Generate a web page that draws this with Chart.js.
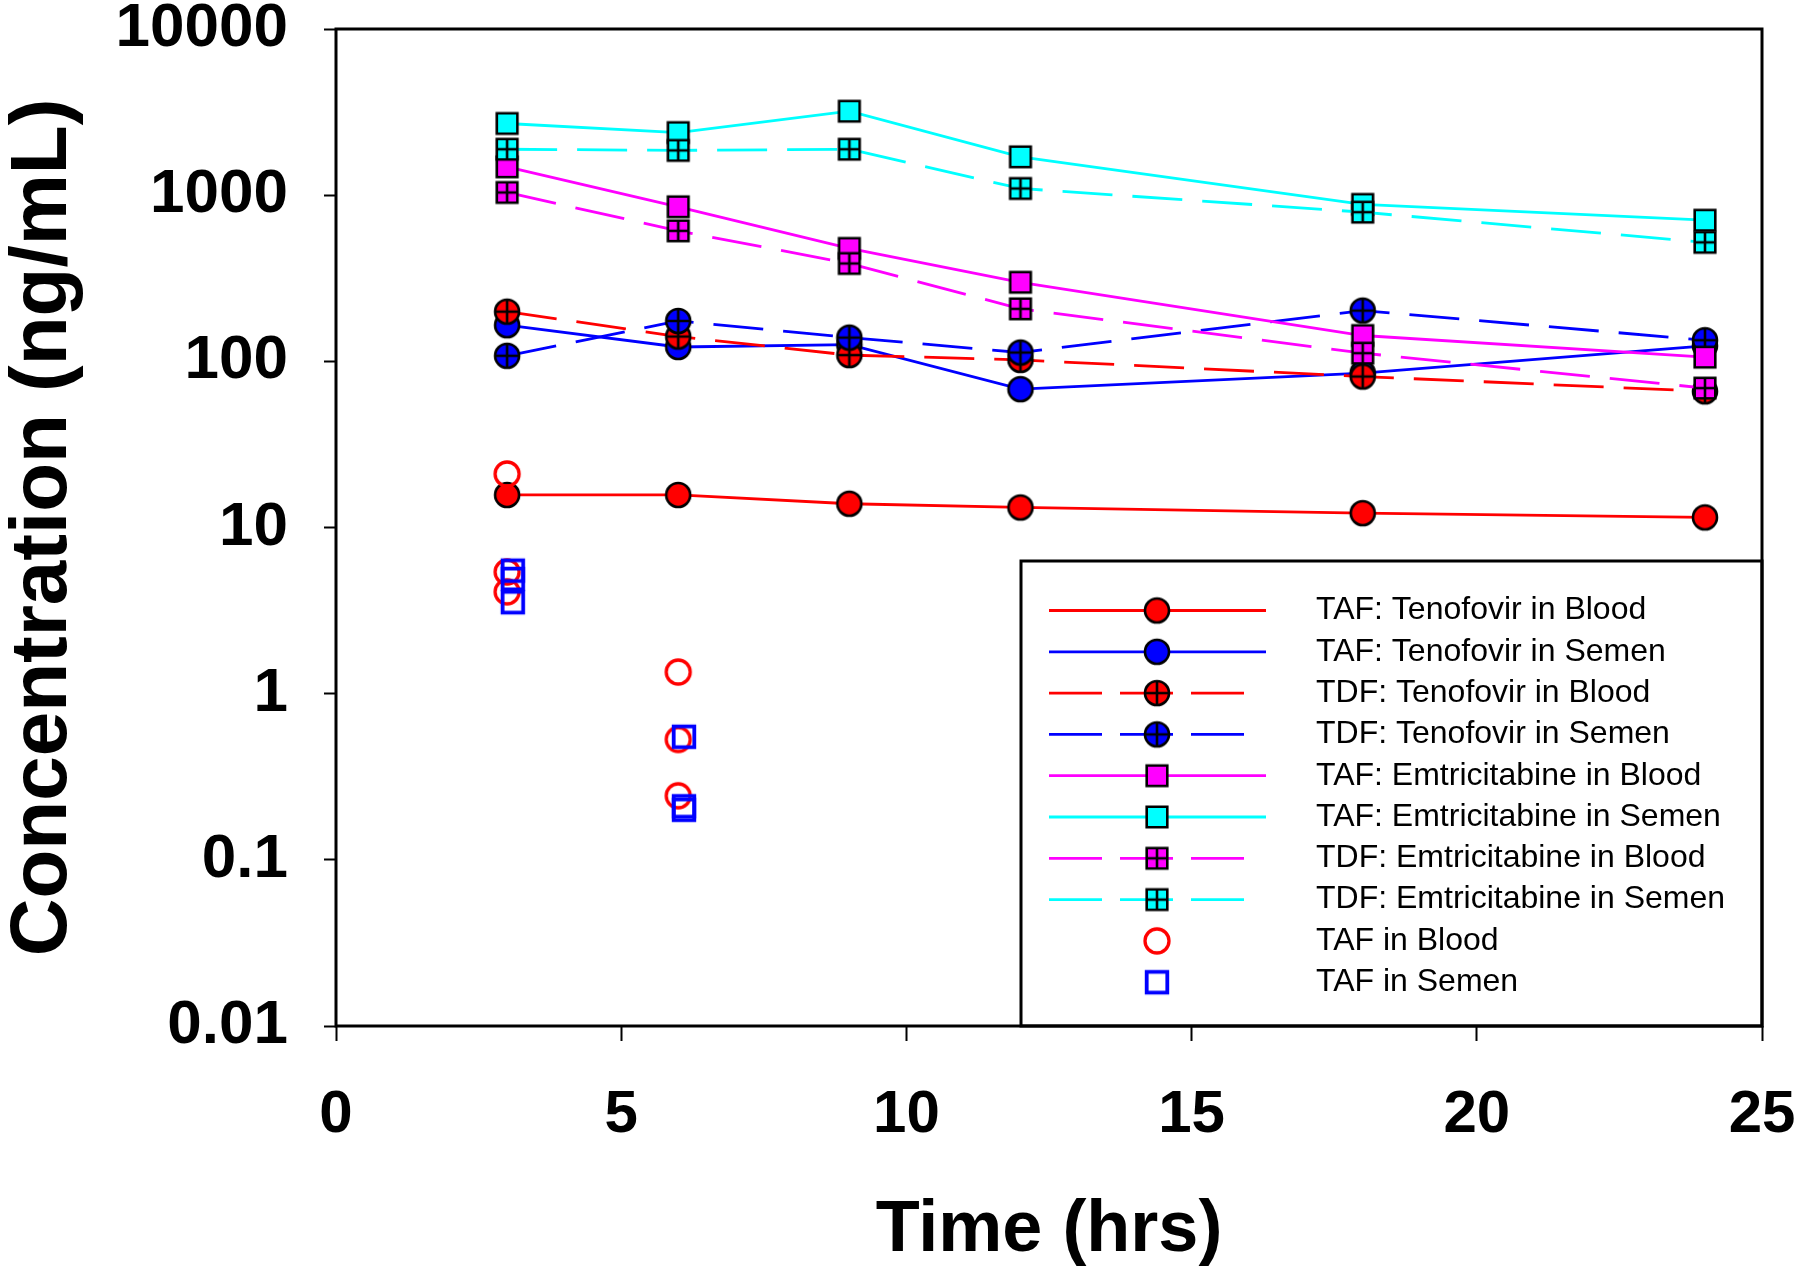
<!DOCTYPE html>
<html><head><meta charset="utf-8">
<script src="https://cdn.jsdelivr.net/npm/chart.js@4.4.1/dist/chart.umd.min.js"></script>
<style>html,body{margin:0;padding:0;background:#fff}#wrap{width:1800px;height:1267px;position:relative}</style>
</head><body><div id="wrap"><canvas id="c"></canvas></div>
<script>
// ---- data ----
const times = [3, 6, 9, 12, 18, 24];
const tafTenofovirBlood = [15.7, 15.7, 13.9, 13.2, 12.2, 11.5];
const tafTenofovirSemen = [165, 122, 126, 68, 85, 124];
const tdfTenofovirBlood = [199, 141, 109, 102, 81, 66];
const tdfTenofovirSemen = [108, 175, 139, 113, 202, 134];
const tafEmtricitabineBlood = [1480, 851, 478, 299, 143, 106];
const tafEmtricitabineSemen = [2700, 2380, 3200, 1700, 880, 707];
const tdfEmtricitabineBlood = [1038, 610, 388, 207, 112, 69];
const tdfEmtricitabineSemen = [1890, 1860, 1890, 1097, 790, 520];
const tafBloodTimes = [3, 3, 3, 6, 6, 6];
const tafBloodValues = [21, 5.4, 4.1, 1.35, 0.53, 0.243];
const tafSemenTimes = [3.1, 3.1, 3.1, 6.1, 6.1, 6.1];
const tafSemenValues = [5.5, 4.9, 3.55, 0.55, 0.21, 0.2];
const xTicks = [0, 5, 10, 15, 20, 25];
const yTicks = [0.01, 0.1, 1, 10, 100, 1000, 10000];
const seriesNames = [
  'TAF: Tenofovir in Blood', 'TAF: Tenofovir in Semen',
  'TDF: Tenofovir in Blood', 'TDF: Tenofovir in Semen',
  'TAF: Emtricitabine in Blood', 'TAF: Emtricitabine in Semen',
  'TDF: Emtricitabine in Blood', 'TDF: Emtricitabine in Semen',
  'TAF in Blood', 'TAF in Semen'
];
const xTitle = 'Time (hrs)';
const yTitle = 'Concentration (ng/mL)';

// ---- styling ----
const FONT = '"Liberation Sans", Arial, sans-serif';
const RED = '#ff0000', BLUE = '#0000ff', MAG = '#ff00ff', CYAN = '#00ffff';
const DASH = [50, 20];

function marker(shape, fill, stroke, cross, lw) {
  const c = document.createElement('canvas');
  c.width = 34; c.height = 34;
  const g = c.getContext('2d');
  const m = 17;
  g.lineWidth = lw; g.strokeStyle = stroke;
  g.beginPath();
  const r = shape === 'circle' ? 12 : 10.3;
  if (shape === 'circle') g.arc(m, m, r, 0, Math.PI * 2);
  else g.rect(m - r, m - r, 2 * r, 2 * r);
  if (fill) { g.fillStyle = fill; g.fill(); }
  g.stroke();
  if (cross) {
    g.beginPath();
    g.moveTo(m - r, m); g.lineTo(m + r, m);
    g.moveTo(m, m - r); g.lineTo(m, m + r);
    g.stroke();
  }
  return c;
}
const pts = (xs, ys) => ys.map((v, i) => ({ x: xs[i], y: v }));

function lineDs(i, vals, color, dashed, shape, cross) {
  return {
    label: seriesNames[i], data: pts(times, vals),
    borderColor: color, backgroundColor: color, borderWidth: 2.8,
    borderDash: dashed ? DASH : [], showLine: true,
    pointStyle: marker(shape, color, '#000', cross, 2.6), pointRadius: 13,
  };
}
const datasets = [
  lineDs(0, tafTenofovirBlood, RED, false, 'circle', false),
  lineDs(1, tafTenofovirSemen, BLUE, false, 'circle', false),
  lineDs(2, tdfTenofovirBlood, RED, true, 'circle', true),
  lineDs(3, tdfTenofovirSemen, BLUE, true, 'circle', true),
  lineDs(4, tafEmtricitabineBlood, MAG, false, 'square', false),
  lineDs(5, tafEmtricitabineSemen, CYAN, false, 'square', false),
  lineDs(6, tdfEmtricitabineBlood, MAG, true, 'square', true),
  lineDs(7, tdfEmtricitabineSemen, CYAN, true, 'square', true),
  { label: seriesNames[8], data: pts(tafBloodTimes, tafBloodValues), showLine: false,
    borderColor: RED, pointStyle: marker('circle', null, RED, false, 3.3), pointRadius: 13 },
  { label: seriesNames[9], data: pts(tafSemenTimes, tafSemenValues), showLine: false,
    borderColor: BLUE, pointStyle: marker('square', null, BLUE, false, 3.8), pointRadius: 13 },
];
datasets.forEach((d, i) => { d.order = datasets.length - i; });

const framePlugin = {
  id: 'frame',
  afterDatasetsDraw(chart) {
    const ctx = chart.ctx, a = chart.chartArea;
    ctx.save();
    // legend box
    const L = a.left + 685, T = a.top + 532, R = a.right, B = a.bottom;
    ctx.fillStyle = '#fff'; ctx.fillRect(L, T, R - L, B - T);
    ctx.strokeStyle = '#000'; ctx.lineWidth = 3; ctx.strokeRect(L, T, R - L, B - T);
    chart.data.datasets.forEach((ds, i) => {
      const y = T + 49.5 + i * 41.3;
      if (ds.showLine) {
        const dashed = ds.borderDash && ds.borderDash.length;
        ctx.beginPath();
        ctx.setLineDash(dashed ? [53, 18] : []);
        ctx.strokeStyle = ds.borderColor; ctx.lineWidth = ds.borderWidth;
        ctx.moveTo(L + 28, y); ctx.lineTo(L + (dashed ? 224 : 245), y); ctx.stroke();
        ctx.setLineDash([]);
      }
      const img = ds.pointStyle;
      ctx.drawImage(img, L + 136 - img.width / 2, y - img.height / 2);
      ctx.fillStyle = '#000'; ctx.font = '32px ' + FONT;
      ctx.textBaseline = 'middle'; ctx.textAlign = 'left';
      ctx.fillText(ds.label, L + 295, y);
    });
    // plot frame
    ctx.strokeStyle = '#000'; ctx.lineWidth = 3;
    ctx.strokeRect(a.left, a.top, a.right - a.left, a.bottom - a.top);
    ctx.restore();
  }
};

new Chart(document.getElementById('c'), {
  type: 'scatter',
  data: { datasets },
  options: {
    responsive: true, maintainAspectRatio: false, animation: false,
    devicePixelRatio: 1,
    layout: { padding: 0 },
    plugins: { legend: { display: false }, tooltip: { enabled: false } },
    scales: {
      x: {
        type: 'linear', min: 0, max: 25,
        afterBuildTicks: s => { s.ticks = xTicks.map(v => ({ value: v })); },
        afterFit: s => { s.height = 241; s.paddingRight = 38; s.paddingLeft = 0; },
        border: { display: false },
        grid: { drawOnChartArea: false, drawTicks: true, tickLength: 15, tickWidth: 2, tickColor: '#000' },
        ticks: { color: '#000', font: { family: FONT, size: 60, weight: 'bold' }, padding: 38, maxRotation: 0 },
        title: { display: true, text: xTitle, color: '#000', font: { family: FONT, size: 72, weight: 'bold', lineHeight: 1 }, padding: { top: 9, bottom: 0 } },
      },
      y: {
        type: 'logarithmic', min: 0.01, max: 10000,
        afterBuildTicks: s => { s.ticks = yTicks.map(v => ({ value: v })); },
        afterFit: s => { s.width = 336; s.paddingTop = 29; s.paddingBottom = 0; },
        border: { display: false },
        grid: { drawOnChartArea: false, drawTicks: true, tickLength: 12, tickWidth: 2, tickColor: '#000' },
        ticks: { color: '#000', font: { family: FONT, size: 62, weight: 'bold' }, padding: 36, callback: v => String(v) },
        title: { display: true, text: yTitle, color: '#000', font: { family: FONT, size: 80, weight: 'bold', lineHeight: 1 }, padding: { top: 4, bottom: 0 } },
      }
    }
  },
  plugins: [framePlugin]
});
</script></body></html>
